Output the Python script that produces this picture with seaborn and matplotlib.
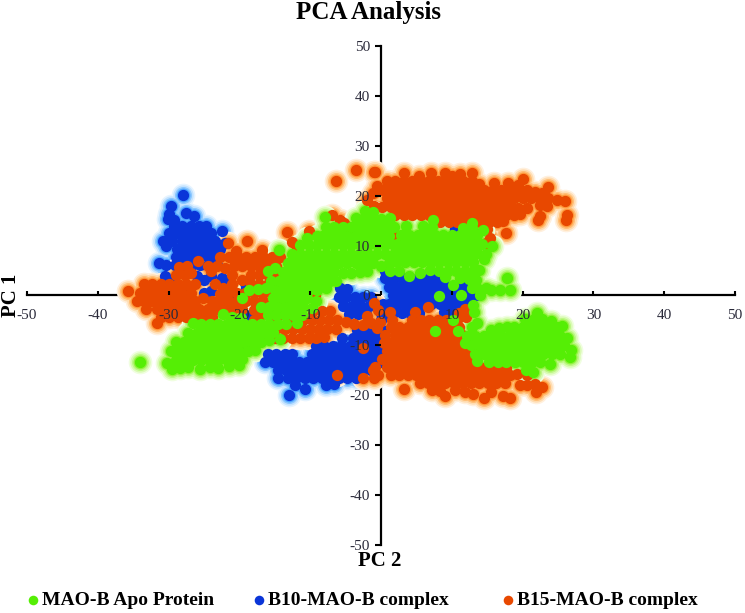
import matplotlib
matplotlib.use("Agg")
import matplotlib.pyplot as plt
import pandas as pd
import seaborn as sns

# (PC 2, PC 1) values
apo_protein = [
    (-34, -13.3), (-30.2, -13.5), (-29.5, -14.7),
    (-28.4, -14.6), (-27.2, -14.4), (-25.6, -14.7), (-24.2, -14.4), (-23, -14.6), (-21.5, -14.2), (-20, -13.9),
    (-29, -13), (-27.8, -13), (-26.6, -13), (-25.4, -13), (-24.2, -13), (-23, -13), (-21.8, -13), (-20.6, -13), (-19.6, -12.8),
    (-29.7, -11.2), (-28.4, -11.2), (-27.2, -11.2), (-26, -11.2), (-24.8, -11.2), (-23.6, -11.2), (-22.4, -11.2),
    (-21.2, -11.2), (-20, -11.2), (-18.8, -11.2), (-17.8, -11),
    (-28.9, -9.4), (-27.8, -9.4), (-26.6, -9.4), (-25.4, -9.4), (-24.2, -9.4), (-23, -9.4), (-21.8, -9.4),
    (-20.6, -9.4), (-19.4, -9.4), (-18.2, -9.4), (-17, -9.4), (-15.8, -9),
    (-27.2, -7.6), (-26, -7.6), (-24.8, -7.6), (-23.6, -7.6), (-22.4, -7.6), (-21.2, -7.6), (-20, -7.6), (-18.8, -7.6),
    (-17.6, -7.6), (-16.4, -7.6), (-15.2, -7.4), (-14.3, -8.8),
    (-26.6, -5.6), (-25.4, -5.8), (-24.2, -5.8), (-23, -5.8), (-21.8, -5.8), (-20.6, -5.8), (-19.4, -5.8), (-18.2, -5.8),
    (-17, -5.8), (-15.8, -5.8), (-14.6, -5.8), (-13.4, -5.8), (-11.9, -5.5),
    (-22.3, -3.8), (-21, -4.4), (-19.8, -4.6), (-16, -4), (-14.8, -4), (-13.6, -4), (-12.4, -4), (-11.2, -4),
    (-17, -2.4), (-15.8, -2.4), (-14.6, -2.4), (-13.4, -2.4), (-12.2, -2.4), (-11, -2.4), (-9.8, -2.6),
    (-19.7, -0.6), (-15.2, -0.6), (-14, -0.6), (-12.8, -0.6), (-11.6, -0.6), (-10.4, -0.6), (-9.2, -1.2),
    (-18.6, 1.2), (-17.4, 1.4), (-16.2, 1.6), (-15, 1.2), (-13.8, 1.2), (-12.6, 1.2), (-11.4, 1.2), (-10.2, 1.2), (-9, 1.2), (-7.8, 1.6),
    (-15.6, 3), (-14.4, 3), (-13.2, 3), (-12, 3), (-10.8, 3), (-9.6, 3), (-8.4, 3), (-7.2, 3), (-6.4, 3),
    (-16, 5), (-15, 5.6), (-13.8, 4.8), (-12.6, 4.8), (-11.4, 4.8), (-10.2, 4.8), (-9, 4.8), (-7.8, 4.8), (-6.6, 4.8),
    (-5.4, 4.6), (-4.2, 4.6), (-3, 4.8), (-2, 5),
    (-13.2, 6.6), (-12, 6.6), (-10.8, 6.6), (-9.6, 6.6), (-8.4, 6.6), (-7.2, 6.6), (-6, 6.6), (-4.8, 6.6), (-3.6, 6.6),
    (-2.4, 6.6), (-1.2, 6.6), (0, 6), (1.2, 6.6),
    (-14.4, 9.2), (-12.6, 8.4), (-11.4, 8.4), (-10.2, 8.4), (-9, 8.4), (-7.8, 8.4), (-6.6, 8.4), (-5.4, 8.4), (-4.2, 8.4),
    (-3, 8.4), (-1.8, 8.4), (-0.6, 8.4), (0.6, 8.4), (1.8, 8.4),
    (-11.4, 10.2), (-10.2, 10.2), (-9, 10.2), (-7.8, 10.2), (-6.6, 10.2), (-5.4, 10.2), (-4.2, 10.2), (-3, 10.2),
    (-1.8, 10.2), (-0.6, 10.2), (0.6, 10.2), (1.8, 10.2),
    (-10.5, 11.5), (-9, 12), (-8.4, 12), (-7.2, 12), (-6, 12), (-4.8, 12), (-3.6, 12), (-2.4, 12), (-1.2, 12), (0, 12), (1.2, 12),
    (-7.8, 13.8), (-6.6, 13.8), (-5.4, 13.8), (-4.2, 13.8), (-3, 13.8), (-1.8, 13.8), (-0.6, 13.8), (0.6, 13.8), (1.8, 13.8),
    (-7.9, 15.7), (-3.6, 15.6), (-2.4, 15.6), (-1.2, 15.6), (0, 15.4), (1.3, 15.5), (-2.3, 17), (-1.2, 16.8),
    (7.4, 15.2), (12.8, 14.5),
    (3.6, 13.9), (6, 13.9), (7.2, 13.8), (11.6, 13.6), (12.9, 13.6), (14.4, 13.2),
    (2.8, 12.2), (4, 12.2), (5.2, 12.2), (6.4, 12.2), (7.6, 12.2), (8.8, 12.2), (10, 12.2), (11.2, 12.2), (12.4, 12.2), (13.6, 12.2),
    (2.2, 10.4), (3.4, 10.4), (4.6, 10.4), (5.8, 10.4), (7, 10.4), (8.2, 10.4), (9.4, 10.4), (10.6, 10.4), (11.8, 10.4),
    (13, 10.4), (14.2, 10.4), (15.7, 10),
    (2.8, 8.6), (4, 8.6), (5.2, 8.6), (6.4, 8.6), (7.6, 8.6), (8.8, 8.6), (10, 8.6), (11.2, 8.6), (12.4, 8.6), (13.6, 8.6), (14.8, 8.4),
    (2.2, 6.8), (3.4, 6.8), (4.6, 6.8), (5.8, 6.8), (7, 6.8), (8.2, 6.8), (9.4, 6.8), (10.6, 6.8), (11.8, 6.8), (13, 6.8), (14.5, 7.4),
    (1.3, 5), (2.6, 5), (3.9, 3.9), (5.5, 4.5), (6.9, 5.2), (8.2, 5), (9.4, 5), (10.6, 5), (11.8, 5), (13, 5), (13.8, 5.2),
    (9, 3.8), (10.2, 2.2), (11.2, 3.5), (12.4, 3.4), (13.4, 3.2),
    (12.8, 1.5), (13.6, 1.5), (14.8, 1.5), (15.6, 1.2), (16.8, 1.2), (18.2, 1.2), (17.8, 3.5), (14, 0),
    (8.2, -0.1), (11.3, 0), (10.1, -5), (7.6, -7.1), (13, -2), (13.2, -3.4),
    (22, -3.6), (20.4, -4.8), (21.6, -4.8), (22.8, -4.8), (24, -5.1),
    (12.8, -6.4), (13.6, -5.5), (15.5, -7), (16.7, -6.6), (17.8, -6.4), (18.8, -6.4), (20, -6.4), (21.2, -6.4), (22.4, -6.4),
    (23.6, -6.4), (24.8, -6.4), (25.5, -6.2),
    (10.9, -7.2), (12.1, -8.2), (13.3, -8.2), (14.5, -8.2), (15.7, -8.2), (16.9, -8.2), (18.1, -8.2), (19.3, -8.2), (20.5, -8.2),
    (21.7, -8.2), (22.9, -8.2), (24.1, -8.2), (25.3, -8.2), (26.3, -8.6),
    (11.9, -9.6), (12.7, -10), (13.9, -10), (15.1, -10), (16.3, -10), (17.5, -10), (18.7, -10), (19.9, -10), (21.1, -10),
    (22.3, -10), (23.5, -10), (24.7, -10), (25.9, -10), (26.9, -11),
    (13.3, -11.8), (14.5, -11.8), (15.7, -11.8), (16.9, -11.8), (18.1, -11.8), (19.3, -11.8), (20.5, -11.8), (21.7, -11.8),
    (22.9, -11.8), (24.1, -11.8), (25.3, -11.8), (26.7, -12.3),
    (13.6, -13.1), (15.3, -13.4), (16.5, -13.4), (17.7, -13.4), (18.9, -13.4), (20.1, -13.4), (21.3, -13.4), (22.5, -13.4), (23.9, -13.8),
    (20.5, -15), (21.5, -15.3),
]

b10_complex = [
    (-27.9, 20.2), (-29.7, 17.9), (-29.9, 16.4), (-30.1, 15.4), (-29.2, 15.2), (-27.5, 16.5), (-26.4, 15.9),
    (-29.3, 14), (-28.1, 14), (-26.9, 14), (-25.7, 14), (-24.7, 14),
    (-30, 12.6), (-28.7, 12.6), (-27.5, 12.6), (-26.3, 12.6), (-25.1, 12.6), (-24, 12.6), (-22.4, 13),
    (-30.8, 11), (-29.5, 11), (-28.1, 11), (-26.9, 11), (-25.7, 11), (-24.5, 11), (-23.4, 11),
    (-30.4, 10), (-28.8, 9.4), (-27.5, 9.4), (-26.3, 9.4), (-25.1, 9.4), (-23.9, 9.4), (-22.7, 9.4), (-22.1, 10.6),
    (-28.9, 7.8), (-27.9, 7.8), (-26.9, 7.8), (-25.7, 7.8), (-24.5, 7.8), (-23.3, 7.8),
    (-31.4, 6.5), (-30.3, 6.2), (-29.1, 6.2), (-27.9, 6.2), (-26.7, 6.2), (-25.5, 6.2), (-24.3, 6.2), (-23.1, 6.2),
    (-30.5, 3.9), (-29.8, 3), (-26, 4), (-25, 3.2), (-24, 4), (-22.5, 3.5), (-22, 2.5), (-25, 0.5), (-24, 1),
    (-19.2, 2.5), (-19, 1.5), (-27.5, 0), (-18.5, -4), (-21, -1), (-18.9, -10.8),
    (-3.4, -7), (-2.2, -7), (-1, -7), (0.2, -7),
    (-5.5, -8.6), (-4, -8.6), (-2.8, -8.6), (-1.6, -8.6), (-0.4, -8.6),
    (-9.2, -10.2), (-8, -10.2), (-6.8, -10.2), (-5.6, -10.2), (-4.4, -10.2), (-3.2, -10.2), (-2, -10.2), (-0.8, -10.2), (0.2, -10.2),
    (-16, -11.8), (-14.8, -11.8), (-13.6, -11.8), (-12.6, -11.8), (-9.8, -11.8), (-8.6, -11.8), (-7.4, -11.8), (-6.2, -11.8),
    (-5, -11.8), (-3.8, -11.8), (-2.6, -11.8), (-1.4, -11.8), (-0.2, -11.8),
    (-16.4, -13.4), (-15.2, -13.4), (-14, -13.4), (-12.8, -13.4), (-11.6, -13.4), (-10.4, -13.4), (-9.2, -13.4), (-8, -13.4),
    (-6.8, -13.4), (-5.6, -13.4), (-4.4, -13.4), (-3.2, -13.4), (-2, -13.4), (-0.8, -13.4), (0.2, -13.4),
    (-14.6, -15), (-13.4, -15), (-12.2, -15), (-11, -15), (-9.8, -15), (-8.6, -15), (-7.4, -15), (-6.2, -15), (-5, -15),
    (-3.8, -15), (-2.6, -15), (-1.4, -15),
    (-14.5, -16.6), (-13.2, -16.6), (-12, -16.6), (-10.8, -16.6), (-9.6, -16.6), (-8.4, -16.6), (-7.2, -16.6), (-6, -16.6),
    (-4.8, -16.6), (-3.6, -16.6),
    (-12.2, -18), (-10.7, -18.8), (-7.7, -18), (-6.6, -17.8), (-13, -20),
    (0.6, 5), (0.5, 3.6), (1.7, 3.6), (2.9, 3.6), (4.1, 3.6), (5.3, 3.6), (6.5, 3.6), (7.7, 3.6), (8.9, 3.6),
    (1.1, 1.8), (2.3, 1.8), (3.5, 1.8), (4.7, 1.8), (5.9, 1.8), (7.1, 1.8), (8.3, 1.8), (9.5, 1.8), (10.7, 1.8), (11.9, 1.8),
    (1.7, 0), (2.9, 0), (4.1, 0), (5.3, 0), (6.5, 0), (7.7, 0), (8.9, 0), (10.1, 0), (11.3, 0), (12.5, 0),
    (0.3, -1.8), (1.1, -1.8), (2.3, -1.8), (3.5, -1.8), (4.7, -1.8), (5.9, -1.8), (7.1, -1.8), (8.3, -1.8), (9.5, -1.8), (10.7, -1.8), (11.9, -1.8),
    (0, -3.6), (0.7, -3.6), (1.7, -3.6), (2.9, -3.6), (4.1, -3.6), (5.3, -3.6), (8.9, -3.4), (10.1, -3.4), (0, -5),
    (-5.8, 1.5), (-4.8, 1.4), (-6, -0.4), (-4.9, -0.4), (-3.7, -0.4), (-2.5, -0.4), (-1.4, -0.4),
    (-5.3, -2.2), (-4.1, -2.2), (-2.9, -2.2), (-1.7, -2.2), (-0.5, -2.2),
    (-4.5, -3.8), (-3.3, -3.8), (-2.1, -3.8),
    (13.5, 0.1), (10.5, 13.3),
]

b15_complex = [
    (-35.7, 0.9), (-31.7, -5.5),
    (-33.5, 2.4), (-32.3, 2.4), (-31.1, 2.4), (-29.9, 2.4), (-28.7, 2.4), (-27.5, 2.4), (-26.3, 2.4),
    (-23.5, 2.4), (-22.3, 1.6), (-21, 2.4), (-19.6, 3.2), (-18.4, 2.4), (-17.2, 2.4), (-16, 2.4), (-15, 2.4),
    (-34.1, 0.6), (-32.9, 0.6), (-31.7, 0.6), (-30.5, 0.6), (-29.3, 0.6), (-28.1, 0.6), (-26.9, 0.6),
    (-22.8, 0.4), (-21.6, 0.6), (-20.4, 0.6), (-19.2, 0.6), (-18, 0.6), (-16.8, 0.6), (-15.6, 0.6),
    (-34.5, -1.1), (-33.5, -1.1), (-32.3, -1.1), (-31.1, -1.1), (-29.9, -1.1), (-28.7, -1.1), (-27.5, -1.1), (-26.3, -1.1),
    (-25.1, -0.6), (-23.9, -1.1), (-22.7, -1.1), (-21.5, -1.1), (-20.3, -1.1), (-19.1, -1.1), (-17.9, -1.1), (-16.6, -1.1),
    (-33.2, -2.8), (-31.7, -2.8), (-30.5, -2.8), (-29.3, -2.8), (-28.1, -2.8), (-26.9, -2.8), (-25.7, -2.8), (-24.5, -2.8),
    (-23.3, -2.8), (-22.1, -2.8), (-20.9, -2.8), (-19.7, -2.8), (-18, -3),
    (-31.1, -4.4), (-29.9, -4.4), (-28.7, -4.4), (-27.5, -4.4), (-26.3, -4.4), (-25.1, -4.4), (-23.9, -4.4),
    (-28.9, 4.2), (-27.7, 4.2), (-26.9, 4.6), (-24, 5), (-21, 4.2), (-18.4, 4.2), (-17.2, 4.2), (-16, 4.2), (-14.8, 4.2),
    (-28.6, 5.8), (-27.4, 6), (-25.8, 6.9), (-24.4, 6), (-23.2, 6), (-22, 5.6), (-20.8, 6), (-19.6, 6), (-18.4, 6),
    (-17.2, 6), (-16, 6), (-14.8, 6),
    (-22.7, 7.8), (-21.4, 7.8), (-20.2, 7.8), (-19, 7.8), (-17.8, 7.8), (-16.6, 7.8), (-15.4, 7.8), (-14.2, 7.8),
    (-21.6, 10.5), (-18.9, 11), (-16.8, 9.2), (-20.5, 8.9), (-13.3, 12.7), (-10.2, 12.9),
    (-12.6, 10.7), (-11.9, 9.8), (-6.9, 16.2), (-6.4, 23), (-3.6, 25.2), (-1, 24.7), (-2, 19.2),
    (-4.5, 13.5), (-5.2, 14.5), (-1.2, 20.5), (-0.5, 22), (-1, 18), (-5.8, 15.2),
    (-9.3, 0), (-1, -1.5), (-0.4, -3), (-2, -4.2),
    (-9.6, -3.2), (-8.4, -3.2), (-7.2, -3.2),
    (-12.2, -5), (-11, -5), (-9.8, -5), (-8.6, -5), (-7.4, -5), (-6.2, -5), (-5, -5.3), (-3.8, -5.7),
    (-2.6, -5.9), (-1.4, -5.6), (-0.2, -5.4),
    (-14.7, -6.6), (-13.6, -6.8), (-12.4, -6.8), (-11.2, -6.8), (-10, -6.8), (-8.8, -6.8), (-7.6, -6.8), (-6.4, -6.8),
    (-16, -8), (-15, -8.5), (-13.8, -8.5), (-12.6, -8.5), (-11.4, -8.5), (-10.2, -8.5), (-9.2, -8.5), (-8, -8.4),
    (-18, -5), (-17.2, -4.4), (-16, -3), (-15, -5.5), (-14, -2), (-13, -5), (-14, -3.8),
    (-6.2, -16), (-2.5, -10.5), (-2.5, -16.5), (-1, -16.5), (-1.2, -15),
    (-0.8, 24.7), (3.2, 24.5), (5.3, 24), (7, 24.5), (9, 24.5), (10, 24), (11.2, 24.3), (12.8, 24.5),
    (0.8, 22.9), (2, 22.9), (3.2, 22.9), (4.4, 22.9), (5.6, 22.9), (6.8, 22.9), (8, 22.9), (9.2, 22.9), (10.4, 22.9),
    (11.6, 22.9), (12.8, 22.9), (13.8, 22.4), (16, 22.5), (18, 22.5), (19.3, 22.2), (20, 23.3),
    (0.2, 21.2), (1.4, 21.2), (2.6, 21.2), (3.8, 21.2), (5, 21.2), (6.2, 21.2), (7.4, 21.2), (8.6, 21.2), (9.8, 21.2),
    (11, 21.2), (12.2, 21.2), (13.4, 21.2), (14.6, 21.2), (15.8, 21.2), (17, 21.2), (18.2, 21.2), (19.4, 21.2),
    (20.6, 21.2), (21.8, 20.8), (22.8, 20.6), (23.6, 21.7),
    (0.8, 19.5), (2, 19.5), (3.2, 19.5), (4.4, 19.5), (5.6, 19.5), (6.8, 19.5), (8, 19.5), (9.2, 19.5), (10.4, 19.5),
    (11.6, 19.5), (12.8, 19.5), (14, 19.5), (15.2, 19.5), (16.4, 19.5), (17.6, 19.5), (18.8, 19.5), (20, 19.5),
    (21.2, 19.5), (22.4, 19.5), (23.6, 19.5), (24.8, 19.2), (26, 19),
    (0.2, 17.8), (1.4, 17.8), (2.6, 17.8), (3.8, 17.8), (5, 17.8), (6.2, 17.8), (7.4, 17.8), (8.6, 17.8), (9.8, 17.8),
    (11, 17.8), (12.2, 17.8), (13.4, 17.8), (14.6, 17.8), (15.8, 17.8), (17, 17.8), (18.2, 17.8), (19.4, 17.6),
    (20.6, 17.6), (22.4, 18.2), (23.4, 18),
    (2, 16.2), (3.2, 16.2), (4.4, 16.2), (5.6, 16.2), (6.8, 16.2), (8, 16.2), (9.2, 16.2), (10.4, 16.2), (11.6, 16.2),
    (12.8, 16.2), (14, 16.2), (15.2, 16.2), (16.4, 16.2), (17.6, 16.2), (18.8, 16.2), (19.6, 16.4),
    (8.4, 14.8), (9.6, 14.8), (10.8, 14.8), (12, 14.8), (14, 14.8), (15.2, 14.8), (16.4, 14.8), (17.3, 14.9),
    (22.2, 15.2), (22.4, 16), (26.2, 15.2), (26.3, 16.2),
    (15, 13.4), (17.7, 12.5), (15.4, 11.5), (14.8, 10.5), (13.3, 12.5), (2.4, 11.9),
    (1.3, -3.4), (4.8, -3.3), (6.7, -2.3), (11.9, -2.8), (11, -3.5),
    (1.5, -4.9), (4.4, -4.9), (5.6, -4.9), (6.8, -4.9), (8, -4.9), (9.2, -4.9), (10.8, -4.9), (12, -4.4),
    (-0.5, -6.5), (1.4, -6.4), (2.6, -6.4), (3.8, -6.4), (5, -6.4), (6.2, -6.4), (7.4, -6.4), (8.6, -6.4), (9.8, -6.4), (11, -6.4),
    (0.6, -8), (2, -8), (3.2, -8), (4.4, -8), (5.6, -8), (6.8, -8), (8, -8), (9.2, -8), (10.4, -8), (11.4, -8),
    (0.4, -9.6), (1.4, -9.6), (2.6, -9.6), (3.8, -9.6), (5, -9.6), (6.2, -9.6), (7.4, -9.6), (8.6, -9.6), (9.8, -9.6), (11, -9.6), (12.2, -9.6),
    (0.8, -11.2), (2, -11.2), (3.2, -11.2), (4.4, -11.2), (5.6, -11.2), (6.8, -11.2), (8, -11.2), (9.2, -11.2), (10.4, -11.2),
    (11.6, -11.2), (12.8, -11.2),
    (0.2, -12.8), (1.4, -12.8), (2.6, -12.8), (3.8, -12.8), (5, -12.8), (6.2, -12.8), (7.4, -12.8), (8.6, -12.8), (9.8, -12.8),
    (11, -12.8), (12.2, -12.8), (13.4, -12.8),
    (-0.8, -14.4), (0.8, -14.4), (2, -14.4), (3.2, -14.4), (4.4, -14.4), (5.6, -14.4), (6.8, -14.4), (8, -14.4), (9.2, -14.4),
    (10.4, -14.4), (11.6, -14.4), (12.8, -14.4), (14, -14.4), (15.2, -14.4), (16.4, -14.4), (17.6, -14.6),
    (-0.4, -16), (1.4, -16), (2.6, -16), (3.8, -16), (5, -16), (6.2, -16), (7.4, -16), (8.6, -16), (9.8, -16), (11, -16),
    (12.2, -16), (13.4, -16), (14.6, -16), (15.8, -16), (17, -16), (18.2, -16), (19.2, -15.8), (20.6, -16),
    (3.3, -18.8), (5.5, -17.6), (6.7, -17.6), (7.9, -17.6), (9.1, -17.6), (10.3, -17.6), (11.5, -17.6), (12.7, -17.6),
    (13.9, -17.6), (15.1, -17.6), (16.3, -17.6), (17.5, -17.6), (19.6, -18), (20.6, -18), (21.7, -17.8), (22.7, -18.3), (21.9, -19.4),
    (7.2, -19), (8.4, -19.2), (9, -20.2), (10.4, -19), (11.8, -19.3), (13, -19.8), (14.5, -20.6), (15.6, -19.4), (17.3, -20.2), (18.2, -20.5),
]

tick_values = [-50, -40, -30, -20, -10, 0, 10, 20, 30, 40, 50]

apo_df = pd.DataFrame(apo_protein, columns=["pc2", "pc1"])
b10_df = pd.DataFrame(b10_complex, columns=["pc2", "pc1"])
b15_df = pd.DataFrame(b15_complex, columns=["pc2", "pc1"])

plt.rcParams['font.family'] = ['Liberation Serif', 'DejaVu Serif']
plt.rcParams['axes.unicode_minus'] = False

fig = plt.figure(figsize=(7.45, 6.13), dpi=100)
ax = fig.add_axes([27 / 745, 68 / 613, 708 / 745, 499 / 613])

# soft glow round the clouds, lightest ring first
layers = [
    (b10_df, ["#e6f4ff", "#c4e3ff", "#8cc8ff", "#4ea6ff"]),
    (b15_df, ["#fff0de", "#ffdcb0", "#ffbf78", "#ff9c3e"]),
    (apo_df, ["#f0fee0", "#d9fbb4", "#bdf785", "#93f240"]),
]
for df, rings in layers:
    for size, ring in zip([290, 215, 150, 100], rings):
        sns.scatterplot(data=df, x="pc2", y="pc1", color=ring, s=size, linewidth=0,
                        legend=False, zorder=2, ax=ax)

sns.scatterplot(data=b10_df, x="pc2", y="pc1", color="#0a35d8", s=66, linewidth=0,
                label="B10-MAO-B complex", zorder=3, ax=ax)
sns.scatterplot(data=b15_df, x="pc2", y="pc1", color="#e84800", s=66, linewidth=0,
                label="B15-MAO-B complex", zorder=3, ax=ax)
sns.scatterplot(data=apo_df, x="pc2", y="pc1", color="#55ee05", s=66, linewidth=0,
                label="MAO-B Apo Protein", zorder=3, ax=ax)

ax.set_xlim(-50, 50)
ax.set_ylim(-50, 50)
ax.set_xticks(tick_values)
ax.set_yticks(tick_values)

ax.spines['top'].set_visible(False)
ax.spines['right'].set_visible(False)
ax.spines['left'].set_position('zero')
ax.spines['bottom'].set_position('zero')
ax.spines['left'].set_linewidth(1.6)
ax.spines['bottom'].set_linewidth(1.6)
ax.spines['left'].set_zorder(1)
ax.spines['bottom'].set_zorder(1)

ax.xaxis.set_zorder(5)
ax.yaxis.set_zorder(5)
ax.tick_params(axis='x', direction='in', length=3, width=1.5, pad=10, labelsize=11, labelcolor="#2a2a3a")
ax.tick_params(axis='y', direction='out', length=4, width=1.5, pad=4, labelsize=11, labelcolor="#2a2a3a")

ax.set_xlabel("PC 2", fontsize=15, fontweight='bold', va='center')
ax.set_ylabel("PC 1", fontsize=15, fontweight='bold', va='center')
ax.xaxis.set_label_coords(0.4986, -0.032)
ax.yaxis.set_label_coords(-0.022, 0.5)

fig.suptitle("PCA Analysis", x=369 / 745, y=1 - 12 / 613, va='center', fontsize=18, fontweight='bold')

handles, labels = ax.get_legend_handles_labels()
ax.get_legend().remove()

# one legend per series, the gaps between them are not even
legend_left = [23, 249, 498]
for i, left in zip([2, 0, 1], legend_left):
    leg = fig.legend([handles[i]], [labels[i]], loc='center left', bbox_to_anchor=(left / 745, 1 - 600 / 613),
                     frameon=False, prop={'weight': 'bold', 'size': 14}, markerscale=0.85,
                     handlelength=1, handletextpad=0.0, borderpad=0, borderaxespad=0)

fig.savefig("out.png", dpi=100)
